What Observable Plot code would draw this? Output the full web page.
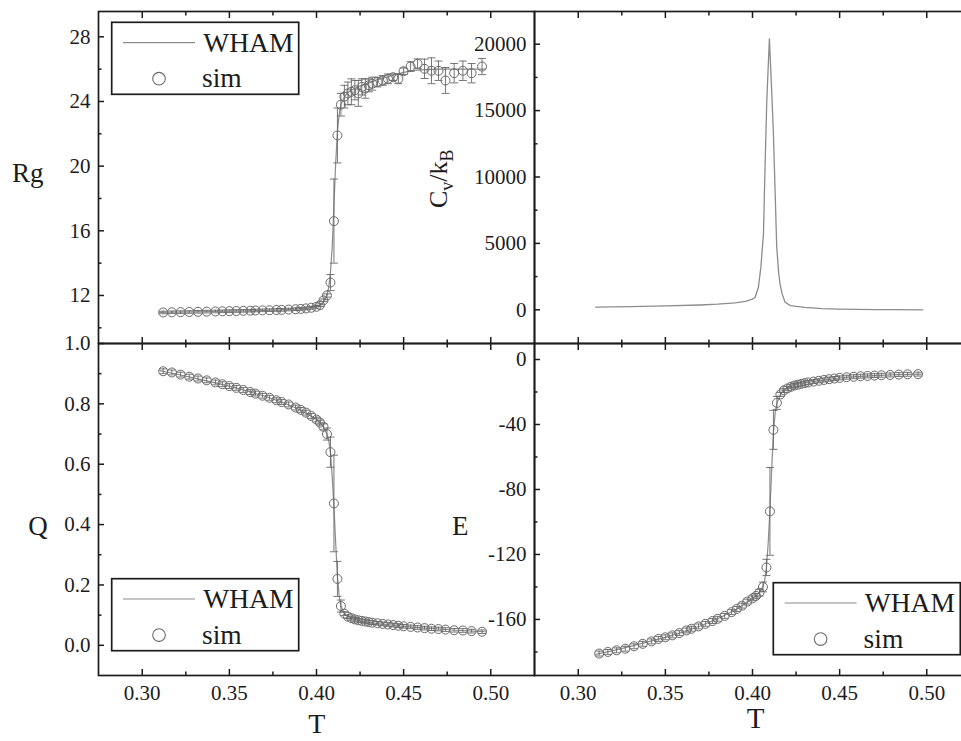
<!DOCTYPE html>
<html>
<head>
<meta charset="utf-8">
<script src="https://cdn.jsdelivr.net/npm/d3@7"></script>
<script src="https://cdn.jsdelivr.net/npm/@observablehq/plot@0.6"></script>
<style>
  html, body { margin: 0; padding: 0; background: #fff; overflow: hidden; }
  #wrap { position: relative; width: 961px; height: 741px; overflow: hidden; background: #fff; }
  #wrap svg { position: absolute; }
  #wrap svg, #wrap svg text { font-family: "Liberation Serif", "Tinos", "Times New Roman", "Times", "Nimbus Roman", "Nimbus Roman No9 L", "FreeSerif", "Noto Serif", "DejaVu Serif", "Georgia", serif !important; }
</style>
</head>
<body>
<div id="wrap"></div>
<script>
// ---------- data ----------
const simT = [0.312, 0.317, 0.322, 0.327, 0.332, 0.337, 0.342, 0.346, 0.350, 0.354,
  0.358, 0.362, 0.365, 0.369, 0.373, 0.377, 0.380, 0.384, 0.388, 0.391,
  0.394, 0.397, 0.400, 0.402, 0.404, 0.406, 0.408, 0.410, 0.412, 0.414,
  0.416, 0.418, 0.420, 0.422, 0.424, 0.426, 0.428, 0.430, 0.432, 0.435,
  0.438, 0.441, 0.444, 0.447, 0.450, 0.454, 0.458, 0.462, 0.466, 0.470,
  0.474, 0.479, 0.484, 0.489, 0.495];

const simRg = [10.95, 10.96, 10.97, 10.98, 10.99, 11.00, 11.01, 11.02, 11.03, 11.04,
  11.05, 11.06, 11.07, 11.08, 11.09, 11.10, 11.11, 11.13, 11.15, 11.17,
  11.20, 11.24, 11.30, 11.40, 11.70, 12.00, 12.80, 16.60, 21.90, 23.80,
  24.30, 24.50, 24.60, 24.70, 24.50, 24.90, 24.80, 25.00, 25.10, 25.20,
  25.30, 25.40, 25.50, 25.40, 25.87, 26.16, 26.33, 26.02, 25.90, 25.90,
  25.30, 25.75, 25.90, 25.75, 26.16];
const rgErr = [0.08, 0.08, 0.08, 0.08, 0.08, 0.08, 0.08, 0.08, 0.08, 0.08,
  0.08, 0.08, 0.08, 0.08, 0.08, 0.08, 0.08, 0.08, 0.08, 0.08,
  0.08, 0.08, 0.08, 0.08, 0.08, 0.10, 0.50, 2.60, 1.70, 0.70,
  0.70, 0.70, 0.80, 0.60, 0.80, 0.50, 0.60, 0.40, 0.40, 0.30,
  0.30, 0.30, 0.20, 0.30, 0.20, 0.30, 0.30, 0.60, 0.80, 0.60,
  0.80, 0.60, 0.60, 0.60, 0.50];

const simQ = [0.908, 0.904, 0.897, 0.890, 0.884, 0.878, 0.871, 0.865, 0.859, 0.853,
  0.846, 0.839, 0.834, 0.827, 0.820, 0.812, 0.806, 0.798, 0.788, 0.780,
  0.771, 0.760, 0.748, 0.738, 0.724, 0.700, 0.640, 0.470, 0.220, 0.130,
  0.105, 0.095, 0.090, 0.086, 0.083, 0.081, 0.079, 0.077, 0.075, 0.073,
  0.071, 0.069, 0.067, 0.065, 0.063, 0.061, 0.059, 0.057, 0.055, 0.054,
  0.052, 0.050, 0.049, 0.047, 0.045];
const qErr = [0.008, 0.008, 0.008, 0.008, 0.008, 0.008, 0.008, 0.008, 0.008, 0.008,
  0.008, 0.008, 0.008, 0.008, 0.008, 0.008, 0.008, 0.008, 0.008, 0.008,
  0.008, 0.008, 0.008, 0.008, 0.010, 0.020, 0.050, 0.160, 0.058, 0.020,
  0.006, 0.006, 0.006, 0.006, 0.006, 0.006, 0.006, 0.006, 0.006, 0.006,
  0.006, 0.006, 0.006, 0.006, 0.006, 0.006, 0.006, 0.006, 0.006, 0.006,
  0.006, 0.006, 0.006, 0.006, 0.006];

const simE = [-181, -180, -179, -178, -176.5, -175, -173.5, -172, -171, -169.8,
  -168.4, -166.8, -165.7, -164.3, -162.7, -161, -159.6, -157.8, -155.5, -153.5,
  -151.5, -149, -147, -145.5, -143.5, -140, -128, -93.5, -43.3, -26.7,
  -21.5, -19, -17.8, -16.8, -16, -15.5, -15, -14.5, -14.1, -13.6,
  -13.1, -12.6, -12.1, -11.7, -11.3, -10.9, -10.6, -10.3, -10.1, -9.9,
  -9.7, -9.5, -9.3, -9.1, -9.0];
const eErr = [1.5, 1.5, 1.5, 1.5, 1.5, 1.5, 1.5, 1.5, 1.5, 1.5,
  1.5, 1.5, 1.5, 1.5, 1.5, 1.5, 1.5, 1.5, 1.5, 1.5,
  1.5, 1.5, 1.5, 1.5, 2, 3, 5, 27, 12, 4,
  1.2, 1.2, 1.2, 1.2, 1.2, 1.2, 1.2, 1.2, 1.2, 1.2,
  1.2, 1.2, 1.2, 1.2, 1.2, 1.2, 1.2, 1.2, 1.2, 1.2,
  1.2, 1.2, 1.2, 1.2, 1.2];

const whamT = [0.310, 0.320, 0.330, 0.340, 0.350, 0.360, 0.370, 0.380, 0.390, 0.395,
  0.400, 0.402, 0.404, 0.406, 0.407, 0.408, 0.409, 0.410, 0.411, 0.412,
  0.413, 0.414, 0.416, 0.418, 0.420, 0.425, 0.430, 0.435, 0.440, 0.445,
  0.450, 0.455, 0.460, 0.470, 0.480, 0.490, 0.497];
const whamRg = [10.95, 10.97, 10.99, 11.01, 11.03, 11.05, 11.08, 11.11, 11.17, 11.21,
  11.30, 11.40, 11.60, 12.00, 12.50, 13.40, 15.00, 17.50, 20.20, 22.10,
  23.20, 23.80, 24.30, 24.55, 24.70, 24.95, 25.15, 25.35, 25.50, 25.65,
  25.80, 25.90, 25.95, 26.00, 26.00, 26.00, 26.00];
const whamQ = [0.910, 0.898, 0.885, 0.872, 0.859, 0.843, 0.826, 0.806, 0.782, 0.766,
  0.748, 0.738, 0.724, 0.700, 0.680, 0.640, 0.560, 0.460, 0.340, 0.230,
  0.165, 0.130, 0.105, 0.095, 0.090, 0.081, 0.076, 0.072, 0.069, 0.066,
  0.063, 0.060, 0.058, 0.054, 0.050, 0.047, 0.045];
const whamE = [-181.5, -179.2, -176.6, -173.8, -171.0, -167.8, -164.0, -159.6, -154.2, -151.0,
  -147.0, -145.5, -143.5, -140.0, -136.0, -128.0, -113.0, -93.0, -68.0, -45.0,
  -33.0, -27.0, -21.5, -19.0, -17.6, -15.3, -14.3, -13.5, -12.8, -12.1,
  -11.4, -10.9, -10.5, -9.9, -9.5, -9.2, -9.0];

const cvT = [0.310, 0.330, 0.350, 0.370, 0.380, 0.390, 0.396, 0.400, 0.4015, 0.4034,
  0.4048, 0.4063, 0.4072, 0.4082, 0.4097, 0.4110, 0.4120, 0.4130, 0.4139, 0.4150,
  0.4158, 0.4170, 0.4187, 0.4216, 0.430, 0.440, 0.450, 0.460, 0.470, 0.480, 0.4977];
const cvVal = [200, 240, 290, 360, 420, 520, 640, 800, 950, 1700,
  3210, 5720, 10740, 15760, 20400, 16500, 13250, 8800, 4715, 2800,
  1960, 1200, 575, 320, 180, 90, 50, 30, 15, 8, 0];

const xMajor = [0.30, 0.35, 0.40, 0.45, 0.50];
const xMinor = [0.325, 0.375, 0.425, 0.475];
const rgMajor = [12, 16, 20, 24, 28];
const rgMinor = [10, 14, 18, 22, 26];
const cvMajor = [0, 5000, 10000, 15000, 20000];
const cvMinor = [2500, 7500, 12500, 17500];
const qMajor = [0.0, 0.2, 0.4, 0.6, 0.8, 1.0];
const qMinor = [0.1, 0.3, 0.5, 0.7, 0.9];
const eMajor = [0, -40, -80, -120, -160];
const eMinor = [-20, -60, -100, -140, -180];

// ---------- drawing ----------
const FONT = '"Liberation Serif", "Tinos", "Times New Roman", "Times", "Nimbus Roman", "FreeSerif", "Noto Serif", "DejaVu Serif", serif';
const INK = "#1c1c1c";
const WHAM_COLOR = "#8c8c8c";
const SIM_COLOR = "#6a6a6a";
const ERR_COLOR = "#666";
const xDomain = [0.2749, 0.5251];
const wrap = document.getElementById("wrap");

const capSymbol = {
  draw(ctx, size) {
    const w = Math.sqrt(size / Math.PI);
    ctx.moveTo(-w, 0);
    ctx.lineTo(w, 0);
  }
};

function simMarks(vals, errs) {
  const lo = vals.map((v, i) => v - errs[i]);
  const hi = vals.map((v, i) => v + errs[i]);
  return [
    Plot.ruleX(simT, {x: simT, y1: lo, y2: hi, stroke: ERR_COLOR, strokeWidth: 0.9}),
    Plot.dot(simT, {x: simT, y: lo, symbol: capSymbol, r: 4, stroke: ERR_COLOR, fill: "none", strokeWidth: 0.9}),
    Plot.dot(simT, {x: simT, y: hi, symbol: capSymbol, r: 4, stroke: ERR_COLOR, fill: "none", strokeWidth: 0.9}),
    Plot.dot(simT, {x: simT, y: vals, r: 4.5, stroke: SIM_COLOR, fill: "none", strokeWidth: 1})
  ];
}

function panel(cfg) {
  const width = cfg.mL + 436 + cfg.mR;
  const height = cfg.mT + 332 + cfg.mB;
  const svg = Plot.plot({
    width, height,
    marginLeft: cfg.mL, marginRight: cfg.mR, marginTop: cfg.mT, marginBottom: cfg.mB,
    style: {background: "transparent", overflow: "visible", fontFamily: FONT, fontSize: "21px", color: INK, maxWidth: "none"},
    x: {domain: xDomain},
    y: {domain: cfg.yDomain},
    marks: [
      ...cfg.marks,
      Plot.frame({stroke: INK, strokeWidth: 1.7}),
      Plot.axisY(cfg.yMajor, {anchor: "left", tickSize: -6, tickPadding: 14, tickFormat: cfg.yFormat, label: null, stroke: INK, fill: INK, strokeWidth: 1.5}),
      Plot.axisY(cfg.yMinor, {anchor: "left", tickSize: -3.5, label: null, stroke: INK, fill: "none", strokeWidth: 1.5}),
      Plot.axisX(xMajor, {anchor: "top", tickSize: -6, label: null, stroke: INK, fill: "none", strokeWidth: 1.5}),
      Plot.axisX(xMinor, {anchor: "top", tickSize: -3.5, label: null, stroke: INK, fill: "none", strokeWidth: 1.5}),
      Plot.axisX(xMajor, {anchor: "bottom", tickSize: -6, tickPadding: 15.5, tickFormat: d3.format(".2f"), label: null, stroke: INK, fill: cfg.xLabels ? INK : "none", strokeWidth: 1.5}),
      Plot.axisX(xMinor, {anchor: "bottom", tickSize: -3.5, label: null, stroke: INK, fill: "none", strokeWidth: 1.5})
    ]
  });
  svg.setAttribute("font-family", FONT);
  svg.style.left = (cfg.fx - cfg.mL) + "px";
  svg.style.top = (cfg.fy - cfg.mT) + "px";
  wrap.appendChild(svg);
}

// Rg (top left)
panel({
  fx: 98, fy: 11, mL: 98, mR: 4, mT: 11, mB: 8,
  yDomain: [9.03, 29.565], yMajor: rgMajor, yMinor: rgMinor, yFormat: d => String(d), xLabels: false,
  marks: [
    Plot.line(whamT, {x: whamT, y: whamRg, stroke: WHAM_COLOR, strokeWidth: 1.2}),
    ...simMarks(simRg, rgErr)
  ]
});
// Cv/kB (top right)
panel({
  fx: 534, fy: 11, mL: 70, mR: 0, mT: 11, mB: 8,
  yDomain: [-2538, 22462], yMajor: cvMajor, yMinor: cvMinor, yFormat: d => String(d), xLabels: false,
  marks: [
    Plot.line(cvT, {x: cvT, y: cvVal, stroke: WHAM_COLOR, strokeWidth: 1.3})
  ]
});
// Q (bottom left)
panel({
  fx: 98, fy: 343, mL: 98, mR: 4, mT: 20, mB: 40,
  yDomain: [-0.1, 1.0], yMajor: qMajor, yMinor: qMinor, yFormat: d3.format(".1f"), xLabels: true,
  marks: [
    Plot.line(whamT, {x: whamT, y: whamQ, stroke: WHAM_COLOR, strokeWidth: 1.2}),
    ...simMarks(simQ, qErr)
  ]
});
// E (bottom right)
panel({
  fx: 534, fy: 343, mL: 70, mR: 0, mT: 20, mB: 40,
  yDomain: [-194.5, 9.85], yMajor: eMajor, yMinor: eMinor, yFormat: d => String(d), xLabels: true,
  marks: [
    Plot.line(whamT, {x: whamT, y: whamE, stroke: WHAM_COLOR, strokeWidth: 1.2}),
    ...simMarks(simE, eErr)
  ]
});

// ---------- legends and axis titles ----------
function legend(x, y) {
  return `<g transform="translate(${x},${y})">
    <rect x="0" y="0" width="187" height="72" fill="#fff" stroke="${INK}" stroke-width="1.7"/>
    <line x1="11.3" x2="83.3" y1="20.3" y2="20.3" stroke="${WHAM_COLOR}" stroke-width="1.2"/>
    <circle cx="47.3" cy="56.4" r="6.3" fill="none" stroke="${SIM_COLOR}" stroke-width="1.1"/>
    <text x="91.5" y="29.4" font-size="27.5">WHAM</text>
    <text x="90.3" y="65" font-size="27.5">sim</text>
  </g>`;
}
const ns = "http://www.w3.org/2000/svg";
const ov = document.createElementNS(ns, "svg");
ov.setAttribute("width", 961);
ov.setAttribute("height", 741);
ov.style.left = "0px";
ov.style.top = "0px";
ov.setAttribute("font-family", FONT);
ov.setAttribute("fill", INK);
ov.innerHTML = `
  ${legend(111.7, 22.3)}
  ${legend(111.7, 578.7)}
  ${legend(773.3, 582.7)}
  <text x="12" y="181.7" font-size="27">Rg</text>
  <text x="28.3" y="535" font-size="27">Q</text>
  <text x="452" y="535" font-size="27">E</text>
  <text x="316.7" y="733" text-anchor="middle" font-size="28">T</text>
  <text x="755.7" y="728.3" text-anchor="middle" font-size="29">T</text>
  <text transform="translate(447,208) rotate(-90)" font-size="26">C<tspan dy="6" font-size="18">v</tspan><tspan dy="-6">/k</tspan><tspan dy="6" font-size="18">B</tspan></text>
`;
wrap.appendChild(ov);
</script>
</body>
</html>
